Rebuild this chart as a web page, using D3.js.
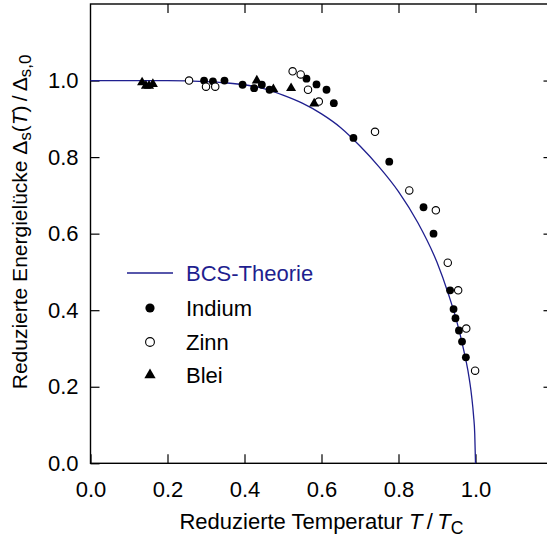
<!DOCTYPE html>
<html>
<head>
<meta charset="utf-8">
<script src="https://cdn.jsdelivr.net/npm/d3@7"></script>
<style>
  html, body { margin: 0; padding: 0; background: #fff; }
  svg { display: block; font-family: "Liberation Sans", Arial, Helvetica, sans-serif; }
</style>
</head>
<body>
<div id="chart"></div>
<script>
// ── Data ──────────────────────────────────────────────────────
// BCS theory curve: reduced temperature T/Tc -> reduced gap
const bcsT = [0, 0.1, 0.2, 0.3, 0.35, 0.4, 0.45, 0.5, 0.55, 0.6, 0.65, 0.7, 0.75, 0.8, 0.85, 0.9, 0.93, 0.95, 0.97, 0.98, 0.99, 0.995, 0.998, 1.0];
const bcsD = [1, 1, 0.9998, 0.997, 0.994, 0.989, 0.979, 0.962, 0.941, 0.913, 0.877, 0.829, 0.774, 0.710, 0.629, 0.525, 0.441, 0.376, 0.293, 0.244, 0.175, 0.124, 0.078, 0];

// Indium (filled circles)
const indiumT = [0.295, 0.318, 0.348, 0.395, 0.425, 0.445, 0.465, 0.561, 0.587, 0.613, 0.632, 0.683, 0.776, 0.865, 0.891, 0.934, 0.943, 0.948, 0.957, 0.965, 0.975];
const indiumD = [1.000, 0.998, 1.000, 0.989, 0.980, 0.989, 0.976, 1.005, 0.990, 0.976, 0.941, 0.850, 0.788, 0.669, 0.600, 0.452, 0.403, 0.379, 0.347, 0.318, 0.277];

// Zinn (open circles)
const zinnT = [0.256, 0.300, 0.324, 0.525, 0.546, 0.565, 0.593, 0.739, 0.828, 0.897, 0.928, 0.955, 0.976, 0.999];
const zinnD = [1.000, 0.984, 0.984, 1.024, 1.016, 0.976, 0.945, 0.866, 0.713, 0.661, 0.524, 0.452, 0.352, 0.242];

// Blei (filled triangles)
const bleiT = [0.134, 0.144, 0.152, 0.162, 0.432, 0.475, 0.521, 0.581];
const bleiD = [0.995, 0.986, 0.986, 0.991, 1.000, 0.977, 0.980, 0.940];

const xTicks = [0, 0.2, 0.4, 0.6, 0.8, 1.0];
const yTicks = [0, 0.2, 0.4, 0.6, 0.8, 1.0];
const legendLabels = ['BCS-Theorie', 'Indium', 'Zinn', 'Blei'];

// ── Layout ────────────────────────────────────────────────────
const W = 547, H = 538;
const mLeft = 90.5, mTop = 4, mRight = 552.5, mBottom = 463.3;
const NAVY = '#1f1f8f';
const FS = 22;

const zip = (a, b) => a.map((v, i) => ({ t: v, d: b[i] }));
const bcs = zip(bcsT, bcsD);
const indium = zip(indiumT, indiumD);
const zinn = zip(zinnT, zinnD);
const blei = zip(bleiT, bleiD);

const svg = d3.select('#chart').append('svg')
  .attr('width', W).attr('height', H);

const x = d3.scaleLinear().domain([0, 1.2]).range([mLeft, mRight]);
const y = d3.scaleLinear().domain([0, 1.2]).range([mBottom, mTop]);

// ── Axes (ticks inward on all four sides) ─────────────────────
const fmt = d3.format('.1f');
const styleAxis = sel => {
  sel.select('.domain').remove();
  sel.selectAll('line').attr('stroke', '#000').attr('stroke-width', 1.2);
  sel.selectAll('text').attr('font-size', FS).attr('fill', '#000')
    .attr('font-family', '"Liberation Sans", Arial, sans-serif');
};

svg.append('g').attr('transform', `translate(0,${mBottom})`)
  .call(d3.axisBottom(x).tickValues(xTicks).tickSize(-9).tickPadding(18).tickFormat(fmt))
  .call(styleAxis);
svg.append('g').attr('transform', `translate(0,${mTop})`)
  .call(d3.axisTop(x).tickValues([...xTicks.slice(1), 1.2]).tickSize(-9).tickFormat(''))
  .call(styleAxis);
svg.append('g').attr('transform', `translate(${mLeft},0)`)
  .call(d3.axisLeft(y).tickValues(yTicks).tickSize(-9).tickPadding(12).tickFormat(fmt))
  .call(styleAxis);
svg.append('g').attr('transform', `translate(${mRight},0)`)
  .call(d3.axisRight(y).tickValues(yTicks.slice(1)).tickSize(-9).tickFormat(''))
  .call(styleAxis);

// frame
svg.append('rect')
  .attr('x', mLeft).attr('y', mTop)
  .attr('width', mRight - mLeft).attr('height', mBottom - mTop)
  .attr('fill', 'none').attr('stroke', '#000').attr('stroke-width', 1.4);

// ── BCS curve ─────────────────────────────────────────────────
const line = d3.line()
  .x(d => x(d.t)).y(d => y(d.d))
  .curve(d3.curveMonotoneX);

svg.append('path').datum(bcs)
  .attr('fill', 'none').attr('stroke', NAVY).attr('stroke-width', 1.3)
  .attr('d', line);

// ── Data points ───────────────────────────────────────────────
svg.append('g').selectAll('circle').data(indium).join('circle')
  .attr('cx', d => x(d.t)).attr('cy', d => y(d.d)).attr('r', 3.9)
  .attr('fill', '#000');

svg.append('g').selectAll('circle').data(zinn).join('circle')
  .attr('cx', d => x(d.t)).attr('cy', d => y(d.d)).attr('r', 3.7)
  .attr('fill', '#fff').attr('stroke', '#000').attr('stroke-width', 1.1);

const tri = d3.symbol().type(d3.symbolTriangle).size(44);
svg.append('g').selectAll('path').data(blei).join('path')
  .attr('transform', d => `translate(${x(d.t)},${y(d.d)})`)
  .attr('d', tri).attr('fill', '#000');

// ── Legend ────────────────────────────────────────────────────
const lg = svg.append('g');
const rowY = [273, 308, 342, 375];
const symX = 150, txtX = 186;

lg.append('line')
  .attr('x1', 127).attr('x2', 173).attr('y1', rowY[0]).attr('y2', rowY[0])
  .attr('stroke', NAVY).attr('stroke-width', 1.3);
lg.append('circle').attr('cx', symX).attr('cy', rowY[1]).attr('r', 4.6).attr('fill', '#000');
lg.append('circle').attr('cx', symX).attr('cy', rowY[2]).attr('r', 4.4)
  .attr('fill', '#fff').attr('stroke', '#000').attr('stroke-width', 1.1);
lg.append('path').attr('transform', `translate(${symX},${rowY[3]})`)
  .attr('d', d3.symbol().type(d3.symbolTriangle).size(55)).attr('fill', '#000');

lg.selectAll('text').data(legendLabels).join('text')
  .attr('x', txtX).attr('y', (d, i) => rowY[i]).attr('dy', '0.35em')
  .attr('font-size', FS)
  .attr('fill', (d, i) => i === 0 ? NAVY : '#000')
  .text(d => d);

// ── Axis titles ───────────────────────────────────────────────
const xt = svg.append('text')
  .attr('x', (mLeft + mRight) / 2).attr('y', 529)
  .attr('text-anchor', 'middle').attr('font-size', FS);
xt.append('tspan').text('Reduzierte Temperatur ');
xt.append('tspan').attr('font-style', 'italic').text('T');
xt.append('tspan').text('\u2009/\u2009');
xt.append('tspan').attr('font-style', 'italic').text('T');
xt.append('tspan').attr('baseline-shift', '-25%').attr('font-size', FS * 0.8).text('C');

const YFS = 21;
const yt = svg.append('text')
  .attr('transform', `translate(27,222) rotate(-90)`)
  .attr('text-anchor', 'middle').attr('font-size', YFS);
yt.append('tspan').text('Reduzierte Energielücke \u0394');
yt.append('tspan').attr('baseline-shift', '-25%').attr('font-size', YFS * 0.8).text('s');
yt.append('tspan').text('(');
yt.append('tspan').attr('font-style', 'italic').text('T');
yt.append('tspan').text(')\u2009/\u2009\u0394');
yt.append('tspan').attr('baseline-shift', '-25%').attr('font-size', YFS * 0.8).text('s,0');
</script>
</body>
</html>
